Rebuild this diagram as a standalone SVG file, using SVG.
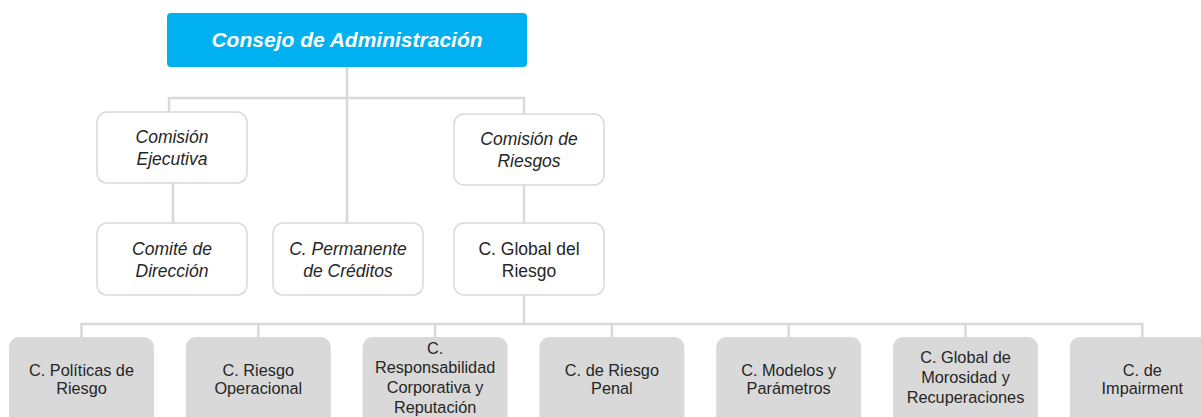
<svg xmlns="http://www.w3.org/2000/svg" width="1201" height="417" viewBox="0 0 1201 417">
<style>
.conn{fill:none;stroke:#d9d9d9;stroke-width:2.5}
.w{fill:#ffffff;stroke:#d9d9d9;stroke-width:1.5}
.g{fill:#d9d9d9}
.ti{font-family:"Liberation Sans",Arial,sans-serif;font-size:17.5px;font-style:italic;fill:#262626;text-anchor:middle}
.tn{font-family:"Liberation Sans",Arial,sans-serif;font-size:17.5px;fill:#262626;text-anchor:middle}
.tb{font-family:"Liberation Sans",Arial,sans-serif;font-size:16.3px;fill:#262626;text-anchor:middle}
</style>
<rect width="1201" height="417" fill="#ffffff"/>
<g id="connectors">
<path class="conn" d="M347 67V223"/>
<path class="conn" d="M169 112V98H524V114"/>
<path class="conn" d="M173 183V223"/>
<path class="conn" d="M524 185V223"/>
<path class="conn" d="M524 295V324"/>
<path class="conn" d="M81.5 337V324H1142.3V337"/>
<path class="conn" d="M258.3 324V337M435.1 324V337M611.9 324V337M788.7 324V337M965.5 324V337"/>
</g>
<g id="consejo">
<rect x="167" y="13" width="360" height="54" rx="4" fill="#00b0f0"/>
<text x="347" y="47" style="font-family:'Liberation Sans',Arial,sans-serif;font-size:21px;font-weight:bold;font-style:italic;fill:#ffffff;text-anchor:middle">Consejo de Administración</text>
</g>
<g id="comision-ejecutiva">
<rect class="w" x="97" y="112" width="150" height="71" rx="10"/>
<text class="ti" x="172" y="143">Comisión</text>
<text class="ti" x="172" y="165">Ejecutiva</text>
</g>
<g id="comision-riesgos">
<rect class="w" x="454" y="114" width="150" height="71" rx="10"/>
<text class="ti" x="529" y="145">Comisión de</text>
<text class="ti" x="529" y="167">Riesgos</text>
</g>
<g id="comite-direccion">
<rect class="w" x="97" y="223" width="150" height="72" rx="10"/>
<text class="ti" x="172" y="255">Comité de</text>
<text class="ti" x="172" y="277">Dirección</text>
</g>
<g id="permanente-creditos">
<rect class="w" x="273" y="223" width="150" height="72" rx="10"/>
<text class="ti" x="348" y="255">C. Permanente</text>
<text class="ti" x="348" y="277">de Créditos</text>
</g>
<g id="global-riesgo">
<rect class="w" x="454" y="223" width="150" height="72" rx="10"/>
<text class="tn" x="529" y="255">C. Global del</text>
<text class="tn" x="529" y="277">Riesgo</text>
</g>
<g id="politicas-riesgo">
<rect class="g" x="9" y="337" width="145" height="100" rx="10"/>
<text class="tb" x="81.5" y="376">C. Políticas  de</text>
<text class="tb" x="81.5" y="394">Riesgo</text>
</g>
<g id="riesgo-operacional">
<rect class="g" x="185.8" y="337" width="145" height="100" rx="10"/>
<text class="tb" x="258.3" y="376">C. Riesgo</text>
<text class="tb" x="258.3" y="394">Operacional</text>
</g>
<g id="responsabilidad">
<rect class="g" x="362.6" y="337" width="145" height="100" rx="10"/>
<text class="tb" x="435.1" y="354">C.</text>
<text class="tb" x="435.1" y="373">Responsabilidad</text>
<text class="tb" x="435.1" y="393">Corporativa y</text>
<text class="tb" x="435.1" y="413">Reputación</text>
</g>
<g id="riesgo-penal">
<rect class="g" x="539.4" y="337" width="145" height="100" rx="10"/>
<text class="tb" x="611.9" y="376">C. de Riesgo</text>
<text class="tb" x="611.9" y="394">Penal</text>
</g>
<g id="modelos-parametros">
<rect class="g" x="716.2" y="337" width="145" height="100" rx="10"/>
<text class="tb" x="788.7" y="376">C. Modelos y</text>
<text class="tb" x="788.7" y="394">Parámetros</text>
</g>
<g id="morosidad">
<rect class="g" x="893" y="337" width="145" height="100" rx="10"/>
<text class="tb" x="965.5" y="363">C. Global de</text>
<text class="tb" x="965.5" y="383">Morosidad y</text>
<text class="tb" x="965.5" y="403">Recuperaciones</text>
</g>
<g id="impairment">
<rect class="g" x="1069.8" y="337" width="145" height="100" rx="10"/>
<text class="tb" x="1142.3" y="376">C. de</text>
<text class="tb" x="1142.3" y="394">Impairment</text>
</g>
</svg>
